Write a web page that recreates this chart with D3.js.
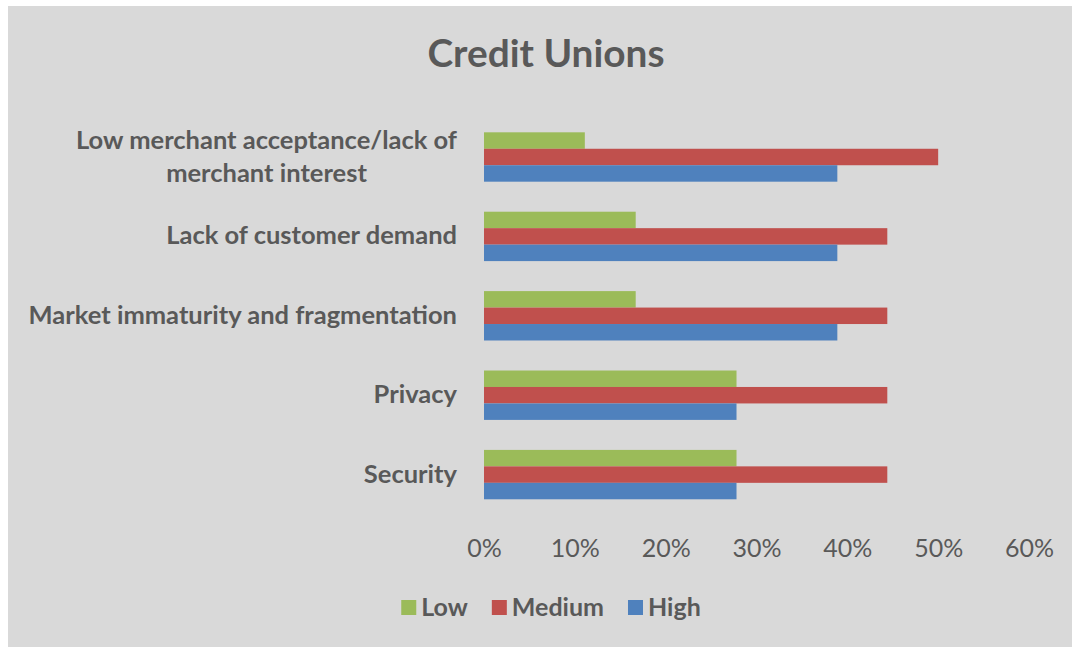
<!DOCTYPE html>
<html>
<head>
<meta charset="utf-8">
<script src="https://cdn.jsdelivr.net/npm/d3@7"></script>
<style>
  html, body { margin: 0; padding: 0; background: #ffffff; }
  svg { display: block; font-family: Lato, "Open Sans", sans-serif; }
</style>
</head>
<body>
<svg id="chart" width="1072" height="647"></svg>
<script>
// Barriers to adoption, share of credit unions rating each as Low / Medium / High
const categories = [
  ["Low merchant acceptance/lack of", "merchant interest"],
  ["Lack of customer demand"],
  ["Market immaturity and fragmentation"],
  ["Privacy"],
  ["Security"]
];
const seriesNames = ["Low", "Medium", "High"];
const seriesColors = ["#9bbb59", "#c0504d", "#4f81bd"];
const lowValues    = [0.111, 0.167, 0.167, 0.278, 0.278];
const mediumValues = [0.500, 0.444, 0.444, 0.444, 0.444];
const highValues   = [0.389, 0.389, 0.389, 0.278, 0.278];
const tickValues = [0, 0.1, 0.2, 0.3, 0.4, 0.5, 0.6];
const title = "Credit Unions";

const seriesValues = [lowValues, mediumValues, highValues];
const textColor = "#595959";

const svg = d3.select("#chart");
const W = 1072, H = 647;

// chart area fill
svg.append("rect")
  .attr("x", 8).attr("y", 6)
  .attr("width", W - 8).attr("height", H - 6)
  .attr("fill", "#d9d9d9");

// title
svg.append("text")
  .attr("x", 546).attr("y", 67)
  .attr("text-anchor", "middle")
  .attr("font-size", 38.8).attr("font-weight", 700)
  .attr("fill", textColor)
  .text(title);

const x = d3.scaleLinear().domain([0, 0.6]).range([484, 1029]);
const catKeys = categories.map(c => c.join(" "));
const y = d3.scaleBand().domain(catKeys).range([117.3, 514.3])
  .paddingInner(0.378).paddingOuter(0.189);
const ySub = d3.scaleBand().domain(seriesNames).range([0, y.bandwidth()]);

// bars
const groups = svg.append("g").selectAll("g")
  .data(categories)
  .join("g")
  .attr("transform", d => `translate(0,${y(d.join(" "))})`);

groups.selectAll("rect")
  .data((d, i) => seriesNames.map((s, j) => ({ s, j, v: seriesValues[j][i] })))
  .join("rect")
  .attr("x", x(0))
  .attr("y", d => ySub(d.s))
  .attr("width", d => x(d.v) - x(0))
  .attr("height", ySub.bandwidth())
  .attr("fill", d => seriesColors[d.j]);

// x axis tick labels (no axis line / tick marks)
const xAxis = d3.axisBottom(x).tickValues(tickValues)
  .tickFormat(d3.format(".0%")).tickSize(0).tickPadding(0);
const gx = svg.append("g").attr("transform", "translate(0,536)").call(xAxis);
gx.select(".domain").remove();
gx.selectAll("text")
  .attr("font-family", "Lato, 'Open Sans', sans-serif")
  .attr("font-size", 25)
  .attr("fill", textColor)
  .attr("dy", 0).attr("y", 21);

// category labels, right-aligned block with centred lines
const labelRight = 457;
const lineGap = 33;
categories.forEach(lines => {
  const cy = y(lines.join(" ")) + y.bandwidth() / 2;
  const t = svg.append("text")
    .attr("font-size", 25.5).attr("font-weight", 700)
    .attr("fill", textColor)
    .attr("text-anchor", "middle");
  const spans = lines.map((ln, k) => t.append("tspan").text(ln));
  const widths = spans.map(s => s.node().getComputedTextLength());
  const maxW = d3.max(widths);
  const cx = labelRight - maxW / 2;
  const first = cy + 8 - (lines.length - 1) * lineGap / 2;
  spans.forEach((s, k) => s.attr("x", cx).attr("y", first + k * lineGap));
});

// legend
const legend = svg.append("g");
let lx = 0;
seriesNames.forEach((s, j) => {
  const item = legend.append("g").attr("transform", `translate(${lx},0)`);
  item.append("rect").attr("x", 0).attr("y", -16).attr("width", 15).attr("height", 15)
    .attr("fill", seriesColors[j]);
  const t = item.append("text").attr("x", 20).attr("y", 0)
    .attr("font-size", 25).attr("font-weight", 700).attr("fill", textColor).text(s);
  lx += 20 + t.node().getComputedTextLength() + 24;
});
const legendW = lx - 24;
legend.attr("transform", `translate(${551 - legendW / 2},616)`);
</script>
</body>
</html>
